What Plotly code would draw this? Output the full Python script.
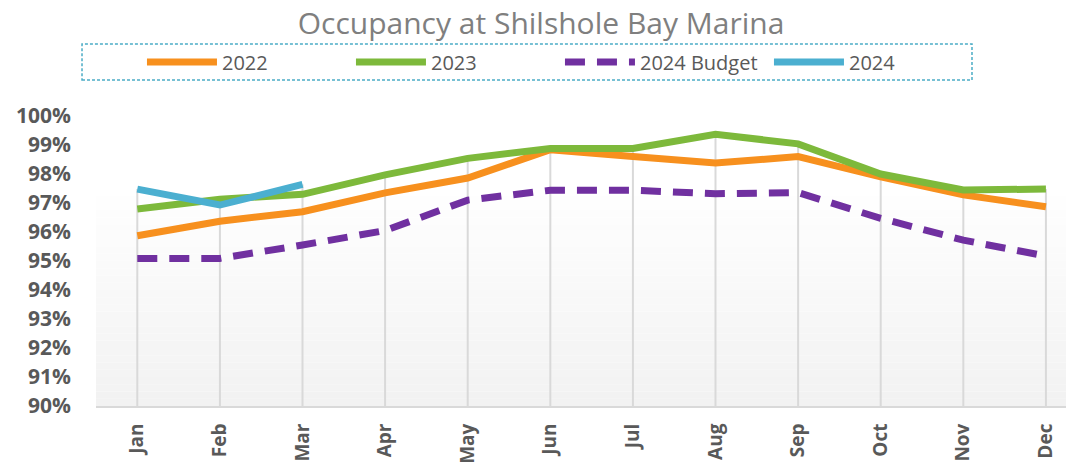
import plotly.graph_objects as go

months = ["Jan", "Feb", "Mar", "Apr", "May", "Jun", "Jul", "Aug", "Sep", "Oct", "Nov", "Dec"]
occ_2022 = [95.87, 96.37, 96.70, 97.35, 97.86, 98.84, 98.60, 98.38, 98.60, 97.90, 97.28, 96.87]
occ_2023 = [96.79, 97.13, 97.30, 97.97, 98.54, 98.88, 98.88, 99.37, 99.04, 98.00, 97.45, 97.48]
budget_2024 = [95.09, 95.09, 95.55, 96.05, 97.10, 97.44, 97.44, 97.32, 97.36, 96.47, 95.72, 95.17]
occ_2024 = [97.48, 96.93, 97.64]

title_text = "Occupancy at Shilshole Bay Marina"
y_ticks = [90, 91, 92, 93, 94, 95, 96, 97, 98, 99, 100]
y_tick_labels = [f"{v}%" for v in y_ticks]

fig = go.Figure()

lw = 7
fig.add_trace(go.Scatter(x=months, y=occ_2022, name="2022", mode="lines",
                         line=dict(color="#F7901E", width=lw)))
fig.add_trace(go.Scatter(x=months, y=occ_2023, name="2023", mode="lines",
                         line=dict(color="#7DB93B", width=lw)))
fig.add_trace(go.Scatter(x=months, y=budget_2024, name="2024 Budget", mode="lines",
                         line=dict(color="#7030A0", width=lw, dash="20px,12px")))
fig.add_trace(go.Scatter(x=months[:len(occ_2024)], y=occ_2024, name="2024", mode="lines",
                         line=dict(color="#4BAFD0", width=lw)))

shapes = []
# gradient plot background (white top -> light gray bottom)
n_bands = 40
for i in range(n_bands):
    t = i / n_bands
    c = int(round(242 + (255 - 242) * min(1.0, t / 0.75)))
    shapes.append(dict(type="rect", xref="x domain", yref="y domain",
                       x0=0, x1=1, y0=t, y1=(i + 1) / n_bands,
                       fillcolor=f"rgb({c},{c},{c})", line=dict(width=0), layer="below"))

# drop lines from highest value to axis
for i, m in enumerate(months):
    vals = [occ_2022[i], occ_2023[i], budget_2024[i]]
    if i < len(occ_2024):
        vals.append(occ_2024[i])
    shapes.append(dict(type="line", xref="x", yref="y", x0=m, x1=m, y0=90, y1=max(vals),
                       line=dict(color="#D9D9D9", width=2), layer="below"))

# legend border (dashed)
shapes.append(dict(type="rect", xref="paper", yref="paper",
                   x0=-0.0143, x1=0.8957, y0=1.124, y1=1.248,
                   line=dict(color="#4BACC6", width=1.5, dash="3px,2px"),
                   fillcolor="rgba(0,0,0,0)"))

fig.update_layout(
    width=1066, height=459,
    margin=dict(l=88, r=0, t=108, b=61),
    paper_bgcolor="white",
    plot_bgcolor="white",
    title=dict(text=title_text, x=0.5, xref="container", xanchor="center",
               y=0.967, yanchor="middle",
               font=dict(family="Open Sans", size=30, color="#7F7F7F")),
    showlegend=True,
    legend=dict(orientation="h", x=0.047, xanchor="left", y=1.186, yanchor="middle",
                font=dict(family="Open Sans", size=20, color="#595959"),
                itemwidth=70, entrywidth=124, entrywidthmode="pixels",
                bgcolor="rgba(0,0,0,0)", traceorder="normal"),
    shapes=shapes,
    xaxis=dict(type="category", categoryorder="array", categoryarray=months,
               range=[-0.5, 11.34], showgrid=False, zeroline=False,
               showline=True, linecolor="#D9D9D9", linewidth=2,
               ticks="", tickangle=-90, ticklabelstandoff=8,
               tickfont=dict(family="Open Sans", size=19, color="#595959", weight="bold")),
    yaxis=dict(range=[90, 100], tickvals=y_ticks, ticktext=y_tick_labels,
               showgrid=False, zeroline=False, showline=False, ticks="",
               ticklabelstandoff=24,
               tickfont=dict(family="Open Sans", size=21, color="#595959", weight="bold")),
)

fig.write_html("out.html")
